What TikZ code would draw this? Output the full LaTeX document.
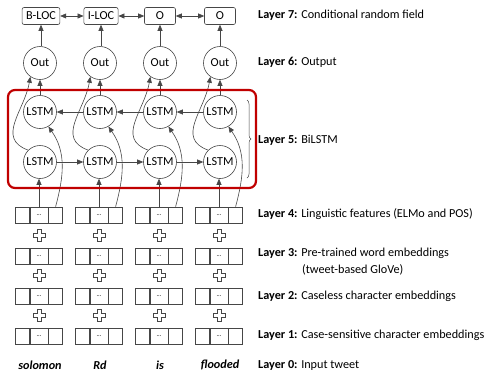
\documentclass[tikz,border=0pt]{standalone}
\usepackage{fontspec}
\setmainfont{Carlito}
\usetikzlibrary{positioning, calc, arrows.meta, decorations.pathreplacing}
\definecolor{ink}{RGB}{70,70,70}
\definecolor{boxred}{RGB}{192,0,0}

\begin{document}
\begin{tikzpicture}[x=1pt, y=-1pt, font=\fontsize{12.2}{17}\selectfont,
  arr/.style={-{Triangle[length=6pt,width=5pt]}, ink, line width=0.6pt},
  darr/.style={{Triangle[length=6pt,width=5pt]}-{Triangle[length=6pt,width=5pt]}, ink, line width=0.6pt},
  unit/.style={circle, draw=ink, line width=0.6pt, minimum size=33pt, inner sep=0pt},
  tag/.style={rectangle, rounded corners=2pt, draw=ink, line width=0.6pt,
              minimum width=31pt, minimum height=17pt, inner xsep=4pt, inner ysep=0pt},
  cell/.style={rectangle, draw=ink, line width=0.6pt, minimum height=16pt, inner sep=0pt},
  layer/.style={anchor=west, inner sep=0pt, align=left}]
  \useasboundingbox (0,0) rectangle (491,373);

  % layer 7: CRF tags
  \node[tag] (crf1) at (41,16) {B-LOC};
  \node[tag] (crf2) at (101,16) {I-LOC};
  \node[tag] (crf3) at (160,16) {O};
  \node[tag] (crf4) at (220,16) {O};
  \draw[darr] (crf1) -- (crf2);
  \draw[darr] (crf2) -- (crf3);
  \draw[darr] (crf3) -- (crf4);

  % columns
  \foreach \c/\x in {1/40,2/100,3/160,4/220}{
    \node[unit] (out\c) at (\x,63) {Out};
    \node[unit] (bw\c) at (\x,112) {LSTM};
    \node[unit] (fw\c) at (\x,162) {LSTM};
    \foreach \r/\y in {4/215,3/256,2/296,1/336}{
      \node[cell, minimum width=18pt] (m\r\c) at (\x-1,\y) {\fontsize{6.5}{6.5}\selectfont ...};
      \node[cell, minimum width=14pt, left=0pt of m\r\c] (l\r\c) {};
      \node[cell, minimum width=14pt, right=0pt of m\r\c] (r\r\c) {};
    }
    % plus signs between the embedding rows
    \foreach \y in {235,275,315}
      \draw[ink, line width=0.6pt, shift={(\x-1,\y)}]
        (-2.2,-6) -- (2.2,-6) -- (2.2,-2.2) -- (6,-2.2) -- (6,2.2) -- (2.2,2.2)
        -- (2.2,6) -- (-2.2,6) -- (-2.2,2.2) -- (-6,2.2) -- (-6,-2.2) -- (-2.2,-2.2) -- cycle;
    \draw[arr] (crf\c.south |- out\c.north) -- (crf\c.south);
    \draw[arr] (bw\c) -- (out\c);
    \draw[arr] (m4\c.north) -- (m4\c.north |- fw\c.south);
    \draw[arr] (r4\c.north) to[out=75, in=-55] (bw\c.-60);
    \draw[arr] (fw\c.135) to[out=160, in=-100, looseness=1.2] (out\c.235);
  }
  \foreach \a/\b in {1/2,2/3,3/4}{
    \draw[arr] (fw\a) -- (fw\b);
    \draw[arr] (bw\b) -- (bw\a);
  }

  % the BiLSTM frame
  \draw[boxred, line width=2.2pt, rounded corners=7pt] (8,90) rectangle (256,188);
  \draw[ink, line width=0.5pt, decorate, decoration={brace, amplitude=4pt}] (247,100) -- (247,178);

  % input words
  \foreach \c/\x/\w in {1/40/solomon,2/100/Rd,3/160/is,4/220/flooded}
    \node[font=\fontsize{12.2}{14}\selectfont\bfseries\itshape] (w\c) at (\x,365) {\w};

  % layer descriptions
  \node[layer] (L7) at (258,15) {\textbf{Layer 7:} Conditional random field};
  \node[layer] (L6) at (258,62) {\textbf{Layer 6:} Output};
  \node[layer] (L5) at (258,140) {\textbf{Layer 5:} BiLSTM};
  \node[layer] (L4) at (258,214) {\textbf{Layer 4:} Linguistic features (ELMo and POS)};
  \node[layer] (L3) at (258,262) {\textbf{Layer 3:} Pre-trained word embeddings\\
                                  \hspace*{44pt}(tweet-based GloVe)};
  \node[layer] (L2) at (258,296) {\textbf{Layer 2:} Caseless character embeddings};
  \node[layer] (L1) at (258,335) {\textbf{Layer 1:} Case-sensitive character embeddings};
  \node[layer] (L0) at (258,365) {\textbf{Layer 0:} Input tweet};
\end{tikzpicture}
\end{document}
